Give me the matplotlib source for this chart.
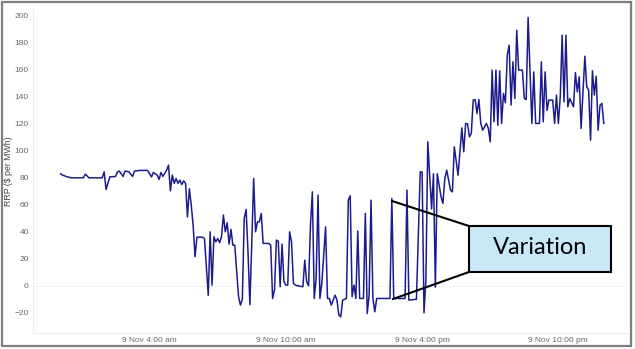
import matplotlib
matplotlib.use("Agg")
import matplotlib.pyplot as plt
from matplotlib.patches import Rectangle
from matplotlib.lines import Line2D

# minutes after midnight on 9 Nov, and RRP in $/MWh
minute_of_day = [
    5, 10, 25, 35, 65, 70, 80, 115, 120, 125, 135, 150, 155, 160, 170, 175, 185, 195, 200, 215,
    235, 245, 250, 260, 265, 270, 275, 285, 290, 295, 300, 305, 310, 315, 320, 325, 330, 335, 340, 345,
    350, 355, 360, 365, 380, 385, 395, 400, 405, 410, 415, 420, 425, 430, 435, 440, 445, 450, 455, 460,
    465, 475, 480, 485, 490, 495, 500, 505, 515, 520, 525, 530, 535, 540, 555, 560, 565, 570, 575, 580,
    585, 590, 595, 600, 605, 610, 615, 620, 625, 640, 645, 650, 655, 660, 665, 670, 675, 680, 685, 690,
    695, 705, 710, 715, 720, 725, 730, 735, 740, 745, 750, 760, 765, 770, 775, 780, 785, 790, 795, 805,
    810, 815, 820, 825, 830, 835, 840, 875, 880, 885, 915, 920, 925, 945, 955, 960, 965, 970, 975, 985,
    990, 995, 1000, 1010, 1015, 1020, 1025, 1035, 1040, 1045, 1055, 1065, 1070, 1075, 1080, 1085, 1090, 1095, 1100, 1105,
    1110, 1115, 1120, 1130, 1135, 1140, 1145, 1150, 1155, 1160, 1165, 1170, 1175, 1180, 1185, 1190, 1195, 1200, 1205, 1210,
    1215, 1225, 1230, 1235, 1240, 1250, 1255, 1260, 1270, 1275, 1280, 1285, 1290, 1295, 1305, 1310, 1315, 1320, 1325, 1330,
    1335, 1340, 1345, 1350, 1360, 1365, 1370, 1375, 1380, 1390, 1395, 1400, 1405, 1410, 1415, 1420, 1425, 1430, 1435, 1440,
]
rrp = [
    83, 82, 80.5, 80, 80, 82.7, 80, 80, 84.4, 71.4, 80.7, 81, 84.4, 85, 81, 85, 84.5, 81, 85, 85.5,
    85.5, 80.7, 84, 82, 78.8, 84, 81, 85.7, 89.4, 70.4, 82, 75.9, 79.5, 75.9, 78.3, 75, 77.8, 75.9, 51, 72,
    60, 45, 21.5, 36, 36, 35, -7, 40, 0.5, 36.3, 32.6, 35, 32, 36.3, 52.4, 40, 46.7, 30.9, 41.8, 30.1,
    30.1, -8, -14.3, -10, 50, 56.6, 25, -14, 79.5, 40, 47.4, 47.4, 53.6, 31.4, 31.4, 30, -9.4, -3.2, 33.9, 33,
    -0.7, 30.9, 3, 0.5, 0.5, 40, 32.6, 1.8, 0.5, -0.5, -0.7, 19, 3, 0, 45, 69.6, -9.4, 5.5, 67.2, -9.4,
    1.8, 43.7, -9.4, -9.4, -14.3, -10.6, -6.9, -10.6, -21.7, -23, -10.6, -9.4, 63.5, 66.7, -8.1, 0.5, -9.4, 40.7, -9.4, -9.4,
    53.6, -20.5, -6.9, 63.5, -9.4, -19.3, -9.4, -9.4, 64.7, -9.4, -9.4, 70.9, -10.6, -10, 84.4, 84.4, -20, 4.2, 106.7, 57,
    83, -1, 83, 66, 61, 79.5, 85.7, 70.9, 69.6, 103, 82, 117, 99.3, 120.3, 120, 110.4, 113, 137.6, 138, 127.7,
    138, 120.3, 115.3, 120.3, 116.6, 106.7, 159.8, 121.5, 159.8, 119, 159.3, 120.3, 142.5, 135.6, 170.9, 178.3, 133.9, 166, 138.8, 189.4,
    159.8, 159.8, 138.8, 138, 198.8, 120.3, 158.5, 120.3, 120.3, 166, 121.5, 158.5, 130, 137.6, 137.6, 120.3, 141.3, 120.3, 140, 185.7,
    136.3, 185.7, 132.6, 138.8, 132.6, 158, 143.7, 154.8, 116.6, 170.1, 147.4, 145, 107.9, 159.3, 141.3, 155.3, 115.3, 133.9, 135.1, 120.3,
]

xtick_minutes = [240, 600, 960, 1320]
xtick_labels = ["9 Nov 4:00 am", "9 Nov 10:00 am", "9 Nov 4:00 pm", "9 Nov 10:00 pm"]
ytick_values = [-20, 0, 20, 40, 60, 80, 100, 120, 140, 160, 180, 200]

plt.rcParams['font.family'] = ['Liberation Sans', 'DejaVu Sans']

fig = plt.figure(figsize=(6.35, 3.49), dpi=100)
ax = fig.add_axes([0.052, 0.0458, 0.937, 0.928])

ax.plot(minute_of_day, rrp, color="#1c1c8c", lw=1.1, zorder=3)
ax.axhline(0, color="#d9d9d9", lw=0.7, ls=(0, (1, 2)), zorder=1)

ax.set_xlim(-68, 1504)
ax.set_ylim(-35, 205)
ax.set_xticks(xtick_minutes)
ax.set_xticklabels(xtick_labels)
ax.set_yticks(ytick_values)
ax.tick_params(length=0, labelsize=6, labelcolor="#666666", pad=3)
ax.set_ylabel("RRP ($ per MWh)", fontsize=6.3, color="#444444")
ax.yaxis.set_label_coords(-0.034, 0.5)

for s in ["top", "right"]:
    ax.spines[s].set_visible(False)
for s in ["left", "bottom"]:
    ax.spines[s].set_color("#eeeeee")
    ax.spines[s].set_linewidth(0.8)

# call-out
fig.add_artist(Line2D([0.6173, 0.7386], [0.4241, 0.3524], color="black", lw=1.5, transform=fig.transFigure))
fig.add_artist(Line2D([0.6189, 0.7386], [0.1433, 0.2206], color="black", lw=1.5, transform=fig.transFigure))
fig.add_artist(Rectangle((0.7386, 0.2206), 0.2236, 0.1318, facecolor="#c8e8f8", edgecolor="black",
                         lw=1.5, transform=fig.transFigure, zorder=5))
fig.text(0.8512, 0.2722, "Variation", fontsize=17, family="Lato", color="black",
         ha="center", va="baseline", zorder=6)

# picture frame
fig.add_artist(Rectangle((1.5 / 635, 3 / 349), 629.5 / 635, 344.5 / 349, facecolor="none",
                         edgecolor="#7f7f7f", lw=1.6, transform=fig.transFigure))

fig.savefig("out.png", dpi=100)
